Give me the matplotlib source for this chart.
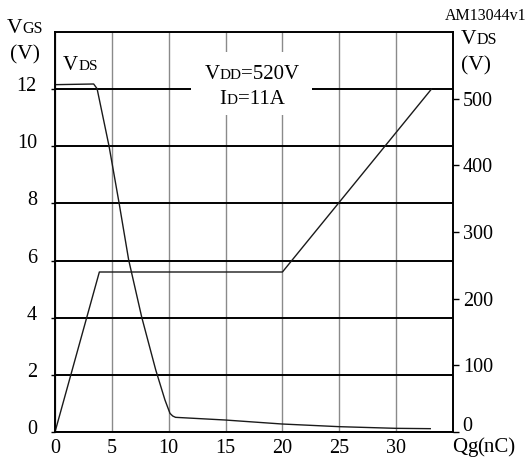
import matplotlib
matplotlib.use("Agg")
import matplotlib.pyplot as plt
from matplotlib.patches import Rectangle
from matplotlib.transforms import IdentityTransform, ScaledTranslation

# -----------------------------
# data
# -----------------------------
vgs_q = [0, 3.9, 20.0, 33.1]          # nC
vgs_v = [0, 5.6, 5.6, 12.0]           # V

vds_q = [0, 3.4, 3.7, 4.75, 5.63, 6.48, 7.63, 8.86, 9.67, 10.11, 10.35,
         10.6, 14.95, 19.96, 24.98, 30.0, 33.0]
vds_v = [521, 522, 515, 429, 344, 258, 172, 93, 48, 28, 24,
         22, 18, 12, 8, 5.5, 5]

x_ticks = [0, 5, 10, 15, 20, 25, 30]
vgs_ticks = [0, 2, 4, 6, 8, 10, 12]
vds_ticks = [0, 100, 200, 300, 400, 500]

W, H = 526, 459
FONT = "Liberation Serif"
plt.rcParams["font.family"] = [FONT, "DejaVu Serif"]

fig = plt.figure(figsize=(W / 100, H / 100), dpi=100)
ax = fig.add_axes([55 / W, 27 / H, 398 / W, 400 / H])
ax2 = ax.twinx()

line_col = "#1a1a1a"

# gridlines: black horizontal, grey vertical
ax.set_xlim(0, 35)
ax.set_ylim(0, 14)
ax.set_xticks(x_ticks)
ax.set_yticks(vgs_ticks)
ax.yaxis.grid(True, color="black", lw=1.4)
ax.xaxis.grid(True, color="#8a8a8a", lw=1.0)

# white box behind the VDD / ID note
ax.add_patch(Rectangle((0.3417, 0.7925), 0.304, 0.1575, transform=ax.transAxes,
                       facecolor="white", edgecolor="none", zorder=2))

ax.plot(vgs_q, vgs_v, color=line_col, lw=1.0, zorder=3)

ax2.set_ylim(0, 600)
ax2.set_yticks(vds_ticks)
ax2.plot(vds_q, vds_v, color=line_col, lw=1.0)

for a in (ax, ax2):
    for s in a.spines.values():
        s.set_color("black")
        s.set_linewidth(1.2)

TS = 14.5
ax.tick_params(axis="x", length=0, pad=5, labelsize=TS)
ax.tick_params(axis="y", length=3, width=1, pad=10, labelsize=TS, direction="out")
ax2.tick_params(axis="y", length=4, width=1, pad=3, labelsize=TS, direction="out")

# left labels sit slightly above their gridlines, right "0" too
off = ScaledTranslation(0, 5 / 100, fig.dpi_scale_trans)
for lab in ax.get_yticklabels():
    lab.set_transform(lab.get_transform() + off)
lab0 = ax2.get_yticklabels()[0]
lab0.set_transform(lab0.get_transform() + ScaledTranslation(0, 8 / 100, fig.dpi_scale_trans))

# -----------------------------
# text pieces in figure pixels (y measured from top)
# -----------------------------
renderer = fig.canvas.get_renderer()

def put(pieces, x, y, ha="left"):
    objs = []
    total = 0
    for txt, size in pieces:
        t = fig.text(0, 0, txt, fontsize=size, transform=IdentityTransform(),
                     va="baseline", ha="left", zorder=5)
        w = t.get_window_extent(renderer).width
        objs.append((t, w))
        total += w
    if ha == "center":
        x = x - total / 2
    elif ha == "right":
        x = x - total
    for t, w in objs:
        t.set_position((x, H - y))
        x += w

put([("V", 15.5), ("GS", 11.5)], 7, 33)
put([("(V)", 15.5)], 10, 59)
put([("V", 15.5), ("DS", 11.5)], 461, 44)
put([("(V)", 15.5)], 461, 70)
put([("AM13044v1", 11.5)], 526, 20, ha="right")
put([("V", 15), ("DS", 11)], 63, 70)
put([("V", 15), ("DD", 11), ("=520V", 15)], 252, 79, ha="center")
put([("I", 15), ("D", 11), ("=11A", 15)], 252, 104, ha="center")
put([("Q", 15), ("g", 15), ("(nC)", 15)], 452, 452)

fig.savefig("out.png", dpi=100)
